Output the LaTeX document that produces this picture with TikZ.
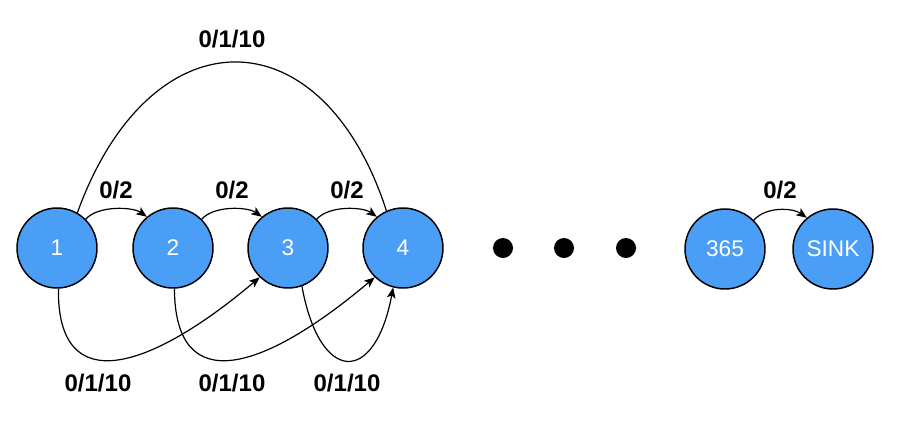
\documentclass[tikz,border=0pt]{standalone}
\usepackage{fontspec}
\setmainfont{Liberation Sans}
\usepackage{xcolor}
\usetikzlibrary{arrows.meta}
\definecolor{nodeblue}{RGB}{74,158,245}

\begin{document}
\begin{tikzpicture}[x=0.75pt,y=0.75pt,yscale=-1,xscale=1,
  state/.style={circle,draw=black,line width=1.1pt,fill=nodeblue,minimum size=60pt,inner sep=0pt,
    text=white,font=\fontsize{17}{19}\selectfont},
  dotmark/.style={circle,fill=black,minimum size=15pt,inner sep=0pt},
  lbl/.style={font=\fontsize{18}{21}\selectfont\bfseries},
  arr/.style={line width=0.9pt,-{Stealth[length=8pt,width=6.5pt,inset=2pt]}}]
\useasboundingbox (0,0) rectangle (899,444);

% States
\node[state] (n1) at (57,248) {1};
\node[state] (n2) at (173,248) {2};
\node[state] (n3) at (288,248) {3};
\node[state] (n4) at (403,248) {4};
\node[state] (n365) at (725,249) {365};
\node[state] (sink) at (833,249) {SINK};

% Dots
\node[dotmark] (d1) at (503,248) {};
\node[dotmark] (d2) at (564,248) {};
\node[dotmark] (d3) at (626,248) {};

% Short arcs
\draw[arr] (n1.45) .. controls +(12,-14) and +(-14,-10) .. (n2.130);
\draw[arr] (n2.45) .. controls +(12,-14) and +(-14,-10) .. (n3.130);
\draw[arr] (n3.45) .. controls +(12,-14) and +(-14,-10) .. (n4.130);
\draw[arr] (n365.45) .. controls +(12,-14) and +(-14,-10) .. (sink.130);

% Long arc over the top
\draw[line width=0.9pt] (n1.60) .. controls (150,12) and (322,12) .. (n4.114);

% Arcs below
\draw[arr] (n1.272) .. controls (57,400) and (150,370) .. (n3.226);
\draw[arr] (n2.272) .. controls (175,400) and (265,370) .. (n4.226);
\draw[arr] (n3.290) .. controls (320,385) and (375,385) .. (n4.256);

% Text Node
\node[lbl] (l12) at (116,190) {0/2};
\node[lbl] (l23) at (232,190) {0/2};
\node[lbl] (l34) at (347,190) {0/2};
\node[lbl] (lsk) at (780,190) {0/2};
\node[lbl] (l14) at (232,39) {0/1/10};
\node[lbl] (l13) at (98,383) {0/1/10};
\node[lbl] (l24) at (232,383) {0/1/10};
\node[lbl] (l34b) at (347,383) {0/1/10};
\end{tikzpicture}
\end{document}
